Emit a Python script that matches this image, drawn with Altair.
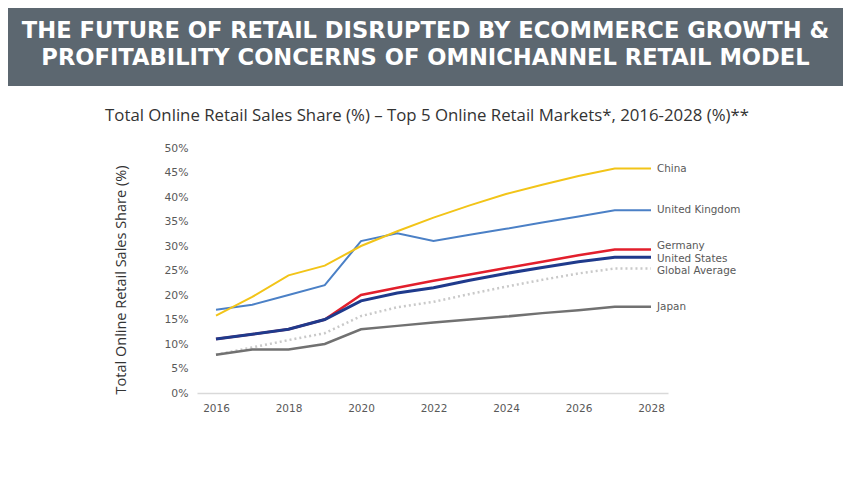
import altair as alt
import pandas as pd

years = list(range(2016, 2029))
china = [15.8, 19.6, 24.0, 26.0, 30.0, 33.0, 35.8, 38.3, 40.6, 42.5, 44.3, 45.8, 45.8]
uk = [17.0, 18.0, 20.0, 22.0, 31.0, 32.6, 31.0, 32.3, 33.5, 34.8, 36.0, 37.3, 37.3]
germany = [11.0, 12.0, 13.0, 15.0, 20.0, 21.5, 22.9, 24.2, 25.5, 26.8, 28.1, 29.3, 29.3]
usa = [11.0, 12.0, 13.0, 15.0, 18.8, 20.4, 21.5, 23.0, 24.4, 25.6, 26.8, 27.7, 27.7]
global_avg = [7.8, 9.3, 10.8, 12.2, 15.7, 17.5, 18.6, 20.2, 21.7, 23.1, 24.4, 25.4, 25.4]
japan = [7.8, 8.9, 8.9, 10.0, 13.0, 13.7, 14.4, 15.0, 15.6, 16.3, 16.9, 17.6, 17.6]

series_names = ["Global Average", "Japan", "Germany", "United States", "United Kingdom", "China"]
series_values = [global_avg, japan, germany, usa, uk, china]
series_colors = ["#C9C9C9", "#717171", "#E21F2C", "#1F3A8C", "#4B80C6", "#F2C418"]

title_lines = ["THE FUTURE OF RETAIL DISRUPTED BY ECOMMERCE GROWTH &",
               "PROFITABILITY CONCERNS OF OMNICHANNEL RETAIL MODEL"]
subtitle = "Total Online Retail Sales Share (%) \u2013 Top 5 Online Retail Markets*, 2016-2028 (%)**"
y_title = "Total Online Retail Sales Share (%)"
x_ticks = [2016, 2018, 2020, 2022, 2024, 2026, 2028]
y_ticks = [0, 5, 10, 15, 20, 25, 30, 35, 40, 45, 50]

rows = []
for name, vals in zip(series_names, series_values):
    for y, v in zip(years, vals):
        rows.append({"Market": name, "Year": y, "Share": v})
df = pd.DataFrame(rows)

W, H = 471, 245
PL, PT = 189, 140
TOTAL_W, TOTAL_H = 835, 462

xs = alt.Scale(domain=[2015.476, 2028.469], nice=False, zero=False)
ys = alt.Scale(domain=[0, 50], nice=False)

x_axis = alt.Axis(values=x_ticks, format="d", title=None, grid=False,
                  domainColor="#D9D9D9", domainWidth=1.5, ticks=False, labelPadding=10,
                  labelFont="DejaVu Sans", labelFontSize=10.5, labelColor="#595959")
y_axis = alt.Axis(values=y_ticks, labelExpr="datum.value + '%'", title=None,
                  grid=False, domain=False, ticks=False, labelPadding=9, labelOverlap=False,
                  labelFont="DejaVu Sans", labelFontSize=10.8, labelColor="#595959")

label_dy = {"Germany": -3, "United States": 1.5, "Global Average": 2}

layers = []
label_layers = []
for name, c in zip(series_names, series_colors):
    sub_df = df[df["Market"] == name]
    sub = alt.Chart(sub_df)
    if name == "Global Average":
        m = sub.mark_line(strokeWidth=2.5, strokeDash=[2, 3], color=c)
    elif name == "United States":
        m = sub.mark_line(strokeWidth=3, color=c)
    elif name in ("Germany", "Japan"):
        m = sub.mark_line(strokeWidth=2.5, color=c)
    else:
        m = sub.mark_line(strokeWidth=2, color=c)
    layers.append(m.encode(x=alt.X("Year:Q", scale=xs, axis=x_axis),
                           y=alt.Y("Share:Q", scale=ys, axis=y_axis)))
    last = sub_df[sub_df["Year"] == years[-1]]
    label_layers.append(alt.Chart(last).mark_text(
        align="left", baseline="middle", dx=6, dy=label_dy.get(name, 0), font="DejaVu Sans",
        fontSize=10.4, color="#595959").encode(
        x=alt.X("Year:Q", scale=xs, axis=x_axis), y=alt.Y("Share:Q", scale=ys, axis=y_axis),
        text="Market:N"))

band = alt.Chart(pd.DataFrame({"a": [0]})).mark_rect(color="#5C6770").encode(
    x=alt.value(-PL), x2=alt.value(TOTAL_W - PL), y=alt.value(-PT), y2=alt.value(86 - 8 - PT))

def txt(s, cx, cy, **kw):
    return alt.Chart(pd.DataFrame({"t": [s]})).mark_text(baseline="middle", align="center", **kw).encode(
        x=alt.value(cx - 8 - PL), y=alt.value(cy - 8 - PT), text="t:N")

t1 = txt(title_lines[0], 425.5, 31, font="DejaVu Sans", fontWeight="bold", fontSize=22.6, color="white")
t2 = txt(title_lines[1], 425.5, 58, font="DejaVu Sans", fontWeight="bold", fontSize=22.6, color="white")
st = txt(subtitle, 427, 116, font="Open Sans", fontSize=16.8, color="#333333")
yt = txt(y_title, 122, 280, font="Open Sans", fontSize=14.5, color="#333333", angle=270)

chart = alt.layer(band, t1, t2, st, yt, *layers, *label_layers).properties(
    width=W, height=H,
    background="white",
    autosize=alt.AutoSizeParams(type="none"),
    padding={"left": PL, "top": PT, "right": TOTAL_W - PL - W, "bottom": TOTAL_H - PT - H},
).configure_view(strokeWidth=0, stroke="transparent")

chart.save("out.html", embed_options={"renderer": "svg", "actions": False})
